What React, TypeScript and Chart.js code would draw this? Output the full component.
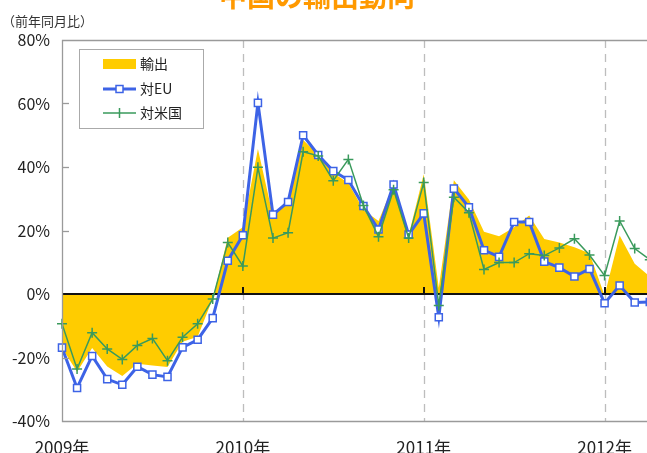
import React, { useEffect, useRef } from 'react';
import { Chart, registerables } from 'chart.js';

Chart.register(...registerables);

// ---- data ----
const years = [2009, 2010, 2011, 2012];
const yearLabels = ['2009年', '2010年', '2011年', '2012年'];
const monthsPerYear = [1, 2, 3, 4, 5, 6, 7, 8, 9, 10, 11, 12];
const lastMonth2012 = 7;
const categories: string[] = [];
years.forEach((y) => {
  monthsPerYear.forEach((m) => {
    if (y === 2012 && m > lastMonth2012) return;
    categories.push(`${y}/${m}`);
  });
});

// 輸出 (China exports, yoy %)
const exportsYoY = [
  -17, -24.5, -17, -22.8, -25.8, -22, -22.5, -23, -15, -13.5, -1.5, 17.7,
  21, 45.7, 24.5, 30, 48.5, 43.9, 38.1, 35, 26.5, 23, 34.5, 18.5,
  37.7, 2, 35.8, 29.8, 19.6, 18.2, 21, 24.7, 17.3, 16.2, 14.7, 12.8,
  -0.5, 18.4, 9.5, 5.5,
];
// 対EU
const euYoY = [
  -16.9, -29.6, -19.5, -26.8, -28.6, -22.9, -25.4, -26.1, -16.8, -14.4, -7.6, 10.5,
  18.5, 60.2, 25, 29, 50, 43.8, 38.7, 35.9, 27.7, 20.3, 34.5, 18.7,
  25.4, -7.3, 33.2, 27.3, 13.8, 11.7, 22.7, 22.7, 10.2, 8.3, 5.5, 7.9,
  -2.9, 2.7, -2.7, -2.5,
];
// 対米国
const usYoY = [
  -9.4, -23.6, -12.2, -17.3, -20.6, -16.2, -14, -21, -13.6, -9.4, -1.6, 16.2,
  8.8, 39.9, 17.6, 19.3, 44.8, 43.5, 35.7, 42.4, 27.9, 18, 32.8, 17.6,
  35.1, -3.6, 30.5, 25.6, 7.7, 9.9, 9.9, 12.7, 12.1, 14.5, 17.4, 12.3,
  5.8, 23, 14.3, 10.8,
];
const yMin = -40;
const yMax = 80;
const yStep = 20;
const seriesNames = ['輸出', '対EU', '対米国'];
const titleText = '中国の輸出動向';
const unitText = '（前年同月比）';

// ---- styles ----
const FONT = '"Noto Sans CJK JP", "Noto Sans", sans-serif';
const C_AREA = '#FFCC00';
const C_EU = '#3D63E6';
const C_US = '#3A9A5C';
const C_TITLE = '#FF9900';
const C_FRAME = '#9a9a9a';
const X_TICK_PAD = 16;
const CANVAS_W = 695 + X_TICK_PAD;
const CANVAS_H = 470;

const decorPlugin = {
  id: 'decor',
  beforeDatasetsDraw(chart: any) {
    const { ctx, chartArea: a, scales } = chart;
    const x = scales.x;
    ctx.save();
    ctx.strokeStyle = '#bdbdbd';
    ctx.lineWidth = 1.3;
    ctx.setLineDash([8, 6]);
    categories.forEach((c, i) => {
      if (!c.endsWith('/1') || i === 0) return;
      const px = Math.round(x.getPixelForValue(i)) + 0.5;
      ctx.beginPath();
      ctx.moveTo(px, a.top);
      ctx.lineTo(px, a.bottom);
      ctx.stroke();
    });
    ctx.restore();
  },
  afterDatasetDraw(chart: any, args: any) {
    if (args.index !== 0) return;
    const { ctx, chartArea: a, scales } = chart;
    const x = scales.x;
    const y0 = Math.round(scales.y.getPixelForValue(0));
    ctx.save();
    ctx.strokeStyle = '#111';
    ctx.lineWidth = 2;
    ctx.beginPath();
    ctx.moveTo(a.left, y0);
    ctx.lineTo(a.right, y0);
    ctx.stroke();
    categories.forEach((c, i) => {
      if (!c.endsWith('/1') || i === 0) return;
      const px = Math.round(x.getPixelForValue(i));
      ctx.beginPath();
      ctx.moveTo(px, y0 - 7);
      ctx.lineTo(px, y0);
      ctx.stroke();
    });
    ctx.restore();
  },
  afterDraw(chart: any) {
    const { ctx, chartArea: a, scales } = chart;
    const y = scales.y;
    ctx.save();
    // frame
    ctx.strokeStyle = C_FRAME;
    ctx.lineWidth = 1.3;
    ctx.beginPath();
    ctx.moveTo(a.right, a.top + 0.5);
    ctx.lineTo(a.left + 0.5, a.top + 0.5);
    ctx.lineTo(a.left + 0.5, a.bottom + 0.5);
    ctx.lineTo(a.right, a.bottom + 0.5);
    ctx.stroke();
    // inward y ticks
    for (let v = yMin + yStep; v < yMax; v += yStep) {
      if (v === 0) continue;
      const py = Math.round(y.getPixelForValue(v)) + 0.5;
      ctx.beginPath();
      ctx.moveTo(a.left, py);
      ctx.lineTo(a.left + 7, py);
      ctx.stroke();
    }
    // title (mostly clipped at the top)
    ctx.fillStyle = C_TITLE;
    ctx.font = `bold 28px ${FONT}`;
    ctx.textAlign = 'center';
    ctx.textBaseline = 'alphabetic';
    ctx.fillText(titleText, 317, 7);
    // unit
    ctx.fillStyle = '#333';
    ctx.font = `13px ${FONT}`;
    ctx.textAlign = 'left';
    ctx.textBaseline = 'middle';
    ctx.fillText(unitText, 2, 21);
    // legend box
    const lx = 79, ly = 49, lw = 124, lh = 79;
    ctx.fillStyle = '#fff';
    ctx.fillRect(lx, ly, lw, lh);
    ctx.strokeStyle = '#aaa';
    ctx.lineWidth = 1;
    ctx.strokeRect(lx + 0.5, ly + 0.5, lw, lh);
    const sx0 = 103, sx1 = 136, tx = 140;
    const rows = [64, 89, 113];
    // 輸出
    ctx.fillStyle = C_AREA;
    ctx.fillRect(sx0, rows[0] - 5, sx1 - sx0, 10);
    // 対EU
    ctx.strokeStyle = C_EU;
    ctx.lineWidth = 3;
    ctx.beginPath();
    ctx.moveTo(sx0, rows[1]);
    ctx.lineTo(sx1, rows[1]);
    ctx.stroke();
    ctx.fillStyle = '#fff';
    ctx.lineWidth = 1.5;
    ctx.fillRect(116, rows[1] - 3.5, 7, 7);
    ctx.strokeRect(116, rows[1] - 3.5, 7, 7);
    // 対米国
    ctx.strokeStyle = C_US;
    ctx.lineWidth = 1.5;
    ctx.beginPath();
    ctx.moveTo(sx0, rows[2]);
    ctx.lineTo(sx1, rows[2]);
    ctx.moveTo(119.5, rows[2] - 5);
    ctx.lineTo(119.5, rows[2] + 5);
    ctx.stroke();
    ctx.fillStyle = '#222';
    ctx.font = `14px ${FONT}`;
    ctx.textBaseline = 'middle';
    seriesNames.forEach((n, i) => ctx.fillText(n, tx, rows[i]));
    ctx.restore();
  },
};

export default function App() {
  const ref = useRef<HTMLCanvasElement | null>(null);
  useEffect(() => {
    if (!ref.current) return;
    const chart = new Chart(ref.current, {
      type: 'line',
      data: {
        labels: categories,
        datasets: [
          {
            label: seriesNames[0],
            data: exportsYoY,
            backgroundColor: C_AREA,
            borderWidth: 0,
            borderColor: C_AREA,
            fill: 'origin',
            pointRadius: 0,
            tension: 0,
            order: 3,
          },
          {
            label: seriesNames[1],
            data: euYoY,
            borderColor: C_EU,
            borderWidth: 3,
            backgroundColor: '#ffffff',
            pointStyle: 'rect',
            pointRadius: 5,
            pointBorderWidth: 1.5,
            pointBorderColor: C_EU,
            pointBackgroundColor: '#ffffff',
            fill: false,
            tension: 0,
            order: 2,
          },
          {
            label: seriesNames[2],
            data: usYoY,
            borderColor: C_US,
            borderWidth: 1.5,
            pointStyle: 'cross',
            pointRadius: 5,
            pointBorderWidth: 1.5,
            pointBorderColor: C_US,
            fill: false,
            tension: 0,
            order: 1,
          },
        ],
      },
      options: {
        animation: false,
        responsive: false,
        layout: { padding: { left: 0, right: 0, top: 40, bottom: 0 } },
        plugins: { legend: { display: false }, tooltip: { enabled: false }, title: { display: false } },
        scales: {
          x: {
            type: 'category',
            offset: false,
            grid: { display: false, drawTicks: false },
            border: { display: false },
            afterFit: (s: any) => {
              s.height = CANVAS_H - 421;
            },
            ticks: {
              autoSkip: false,
              maxRotation: 0,
              minRotation: 0,
              padding: X_TICK_PAD,
              color: '#222',
              font: { family: FONT, size: 17 },
              callback: (_v: any, idx: number) => {
                const c = categories[idx];
                if (!c || !c.endsWith('/1')) return '';
                const yr = Number(c.split('/')[0]);
                return yearLabels[years.indexOf(yr)];
              },
            },
          },
          y: {
            min: yMin,
            max: yMax,
            grid: { display: false, drawTicks: false },
            border: { display: false },
            afterFit: (s: any) => {
              s.width = 62;
            },
            ticks: {
              stepSize: yStep,
              padding: 12,
              color: '#222',
              font: { family: FONT, size: 16 },
              callback: (v: any) => `${v}%`,
            },
          },
        },
      },
      plugins: [decorPlugin],
    });
    return () => chart.destroy();
  }, []);
  return (
    <div
      style={{
        position: 'fixed',
        left: 0,
        top: 0,
        width: 647,
        height: 453,
        overflow: 'hidden',
        background: '#fff',
      }}
    >
      <canvas ref={ref} width={CANVAS_W} height={CANVAS_H} style={{ display: 'block' }} />
    </div>
  );
}
